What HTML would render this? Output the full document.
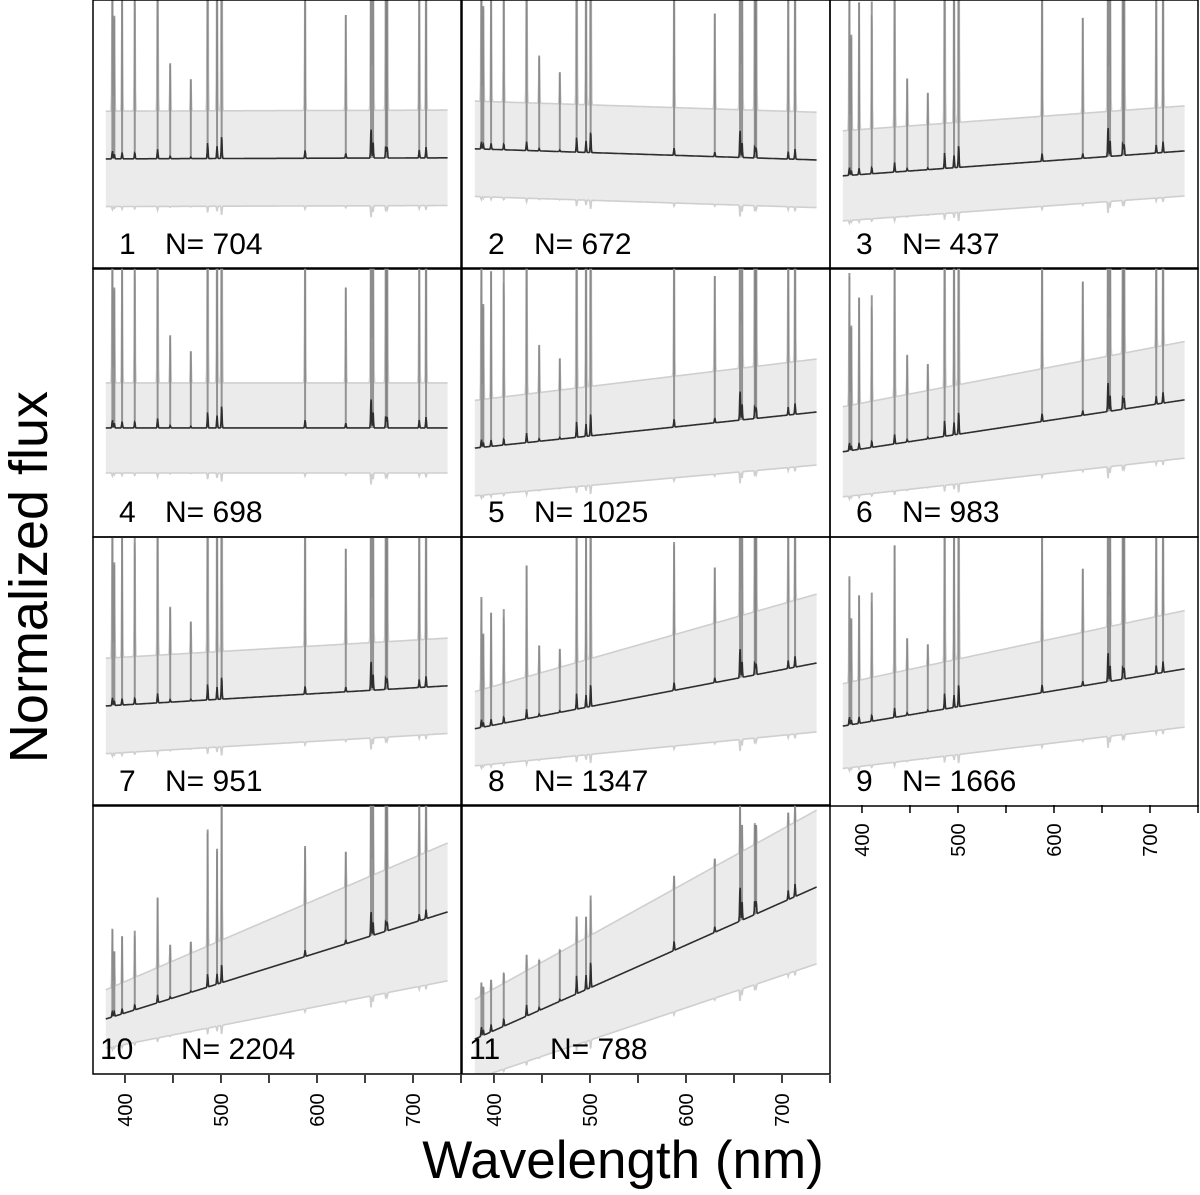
<!DOCTYPE html>
<html><head><meta charset="utf-8"><style>
html,body{margin:0;padding:0;background:#fff;}
svg{display:block;font-family:"Liberation Sans",sans-serif;}
</style></head><body>
<svg id="chart" width="1200" height="1195" viewBox="0 0 1200 1195" xmlns="http://www.w3.org/2000/svg">
<g id="panels"></g>
<text x="0" y="0" font-size="54" text-anchor="middle" transform="translate(47,577) rotate(-90)">Normalized flux</text>
<text x="623" y="1178" font-size="53" text-anchor="middle">Wavelength (nm)</text>
</svg>
<script>
// ---- data ----
const panelIds   = [1,2,3,4,5,6,7,8,9,10,11];
const panelN     = [704,672,437,698,1025,983,951,1347,1666,2204,788];
const meanBlue   = [1.04,1.23,0.72,1.02,0.64,0.57,0.85,0.42,0.47,0.00,-0.38];
const meanRed    = [1.06,1.02,1.19,1.02,1.32,1.55,1.23,1.66,1.55,2.02,2.49];
const spreadBlue = [0.9,0.9,0.85,0.85,0.9,0.85,0.9,0.7,0.8,0.55,0.75];
const spreadRed  = [0.9,0.9,0.85,0.85,1.0,1.1,0.9,1.3,1.1,1.3,1.45];
const lineAmp    = [0.3,0.28,0.3,0.3,0.3,0.3,0.3,0.3,0.3,0.25,0.35];
const envAmp     = [6,6,6,6,6,5,6,3.5,4,2.2,0.5];
const lineWaves  = [372.7,386.9,388.9,397.0,410.2,434.0,447.1,468.6,486.1,495.9,500.7,587.6,630.0,656.3,658.4,671.7,673.1,706.5,713.6];
const lineRel    = [1.0,0.5,0.3,0.4,0.4,0.6,0.15,0.1,1.0,0.8,1.5,0.5,0.3,2.0,1.0,0.8,0.7,0.5,0.7];
const tickMajor  = [400,500,600,700];
const tickMinor  = [450,550,650,750];

// ---- layout ----
const colX=[93,462,830], rowY=[0,268,537,805], PW=368, PH=269;
const LMIN=366.7, LMAX=750, SMIN=380, SMAX=736;
const NS="http://www.w3.org/2000/svg";
const root=document.getElementById('panels');
function mk(tag,attrs,parent){const e=document.createElementNS(NS,tag);for(const k in attrs)e.setAttribute(k,attrs[k]);(parent||root).appendChild(e);return e;}
function xs(l,x0){return x0+(l-LMIN)/(LMAX-LMIN)*PW;}
function ys(v,y0){return y0+PH-55-v*53;}

panelIds.forEach((id,i)=>{
  const c=i%3, r=Math.floor(i/3), x0=colX[c], y0=rowY[r];
  const g=mk('g',{});
  
  
  const cp=mk('clipPath',{id:'cp'+i},g);
  mk('rect',{x:x0,y:y0,width:PW,height:PH},cp);
  const inner=mk('g',{'clip-path':'url(#cp'+i+')'},g);
  const mean=[],up=[],lo=[];
  for(let l=SMIN;l<=SMAX;l+=0.5){
    const t=(l-SMIN)/(SMAX-SMIN);
    let m=meanBlue[i]+(meanRed[i]-meanBlue[i])*t;
    const sd=spreadBlue[i]+(spreadRed[i]-spreadBlue[i])*t;
    let e=0;
    lineWaves.forEach((w,k)=>{e+=lineRel[k]*Math.exp(-Math.pow((l-w)/0.6,2));});
    const X=xs(l,x0);
    mean.push([X,ys(m+lineAmp[i]*e,y0)]);
    up.push([X,ys(m+sd+envAmp[i]*e,y0)]);
    lo.push([X,ys(m-sd-0.12*e,y0)]);
  }
  const pt=a=>a.map(p=>p[0].toFixed(1)+','+p[1].toFixed(1)).join(' ');
  const band=mk('polygon',{points:pt(up)+' '+pt(lo.slice().reverse()),fill:'#ebebeb',stroke:'none'},inner);
  
  
  const u=mk('polyline',{points:pt(up),fill:'none',stroke:'#cfcfcf','stroke-width':1.6},inner);
  
  
  const lw=mk('polyline',{points:pt(lo),fill:'none',stroke:'#cfcfcf','stroke-width':1.6},inner);
  
  
  lineWaves.forEach((w,k)=>{
    const t=(w-SMIN)/(SMAX-SMIN);
    if(t<0||t>1)return;
    const m=meanBlue[i]+(meanRed[i]-meanBlue[i])*t;
    const sd=spreadBlue[i]+(spreadRed[i]-spreadBlue[i])*t;
    const X=xs(w,x0);
    const s=mk('line',{x1:X,x2:X,y1:ys(m,y0),y2:ys(m+sd+envAmp[i]*lineRel[k],y0),stroke:'rgba(110,110,110,0.7)','stroke-width':2},inner);
    
    
  });
  const ml=mk('polyline',{points:pt(mean),fill:'none',stroke:'#2e2e2e','stroke-width':1.6},inner);
  
  
  const fr=mk('rect',{x:x0,y:y0,width:PW,height:PH,fill:'none',stroke:'#000','stroke-width':1.5},g);
  
  
  const lbl=mk('text',{x:x0+(id>=10?7:26),y:y0+254,'font-size':30,fill:'#000'},g);
  lbl.textContent=id;
  
  
  const nl=mk('text',{x:x0+(id>=10?88:72),y:y0+254,'font-size':30,fill:'#000'},g);
  nl.textContent='N= '+panelN[i];
  
  
});

// x axes under panels 9,10,11
[[colX[2],rowY[3]],[colX[0],rowY[3]+PH+1],[colX[1],rowY[3]+PH+1]].forEach(([x0,yb])=>{
  const ax=mk('g',{});
  
  
  tickMajor.concat(tickMinor).forEach(v=>{
    const X=xs(v,x0);
    const tk=mk('line',{x1:X,x2:X,y1:yb,y2:yb+8,stroke:'#000','stroke-width':1.5},ax);
    
    
  });
  tickMajor.forEach(v=>{
    const X=xs(v,x0);
    const t=mk('text',{x:0,y:0,'font-size':20,'text-anchor':'middle',transform:'translate('+(X+7)+','+(yb+35)+') rotate(-90)'},ax);
    t.textContent=v;
    
    
  });
});
</script>
</body></html>
